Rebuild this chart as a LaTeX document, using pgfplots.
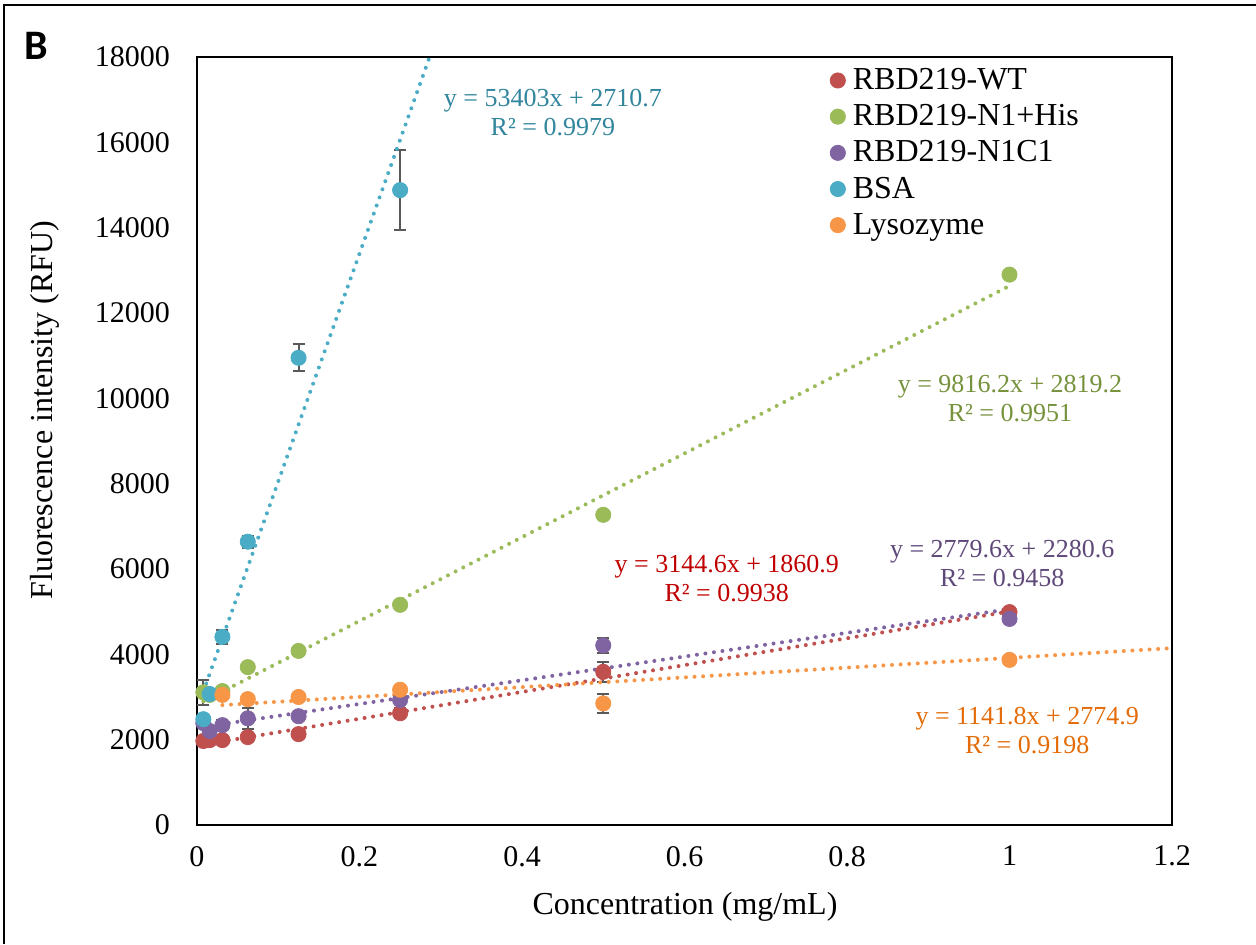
\documentclass[border=0pt]{standalone}
\usepackage{pgfplots}
\pgfplotsset{compat=1.18}
\usepackage{fontspec}
\setmainfont{Liberation Serif}
\newfontfamily\carlito{Carlito}
\definecolor{cRed}{HTML}{C0504D}
\definecolor{cGreen}{HTML}{9BBB59}
\definecolor{cPurple}{HTML}{8064A2}
\definecolor{cAqua}{HTML}{4BACC6}
\definecolor{cOrange}{HTML}{F79646}
\definecolor{tRed}{HTML}{C00000}
\definecolor{tGreen}{HTML}{76923C}
\definecolor{tPurple}{HTML}{5F497A}
\definecolor{tAqua}{HTML}{31859C}
\definecolor{tOrange}{HTML}{E36C09}
\definecolor{ebar}{HTML}{595959}
\begin{document}
\begin{tikzpicture}
\useasboundingbox (-98.5pt,-59.5pt) rectangle (529.5pt,412.5pt);
\draw[line width=0.8pt] (-96.5pt,-59.5pt) -- (-96.5pt,410pt) -- (529.5pt,410pt);
\node[font=\carlito\bfseries\fontsize{21}{24}\selectfont] at (-80.5pt,389.5pt) {B};
\begin{axis}[
  at={(0pt,0pt)}, anchor=south west,
  scale only axis, width=487.5pt, height=384pt,
  xmin=0, xmax=1.2, ymin=0, ymax=18000,
  xtick={0,0.2,...,1.2}, ytick={0,2000,...,18000},
  xticklabels={0,0.2,0.4,0.6,0.8,1,1.2},
  scaled y ticks=false,
  /pgf/number format/.cd, assume math mode=true, 1000 sep={}, /pgfplots/.cd,
  yticklabel={\pgfmathprintnumber[fixed,precision=0,1000 sep={},assume math mode=true]{\tick}},
  major tick length=0pt,
  axis line style={line width=1pt},
  tick label style={font=\fontsize{15}{18}\selectfont},
  xticklabel style={yshift=-7pt},
  yticklabel style={xshift=-10pt},
  xlabel={Concentration (mg/mL)},
  ylabel={Fluorescence intensity (RFU)},
  label style={font=\fontsize{16}{19}\selectfont},
  xlabel style={at={(axis description cs:0.5005,-0.107)}, anchor=center},
  ylabel style={at={(axis description cs:-0.156,0.54)}, anchor=center},
  legend style={draw=none, fill=none, at={(0.647,0.9935)}, anchor=north west,
    font=\fontsize{16}{18.6}\selectfont, row sep=2pt, inner sep=1pt},
  legend cell align=left,
  legend image code/.code={\draw[#1, only marks] plot coordinates {(0pt,0pt)}; \path (5.3pt,0pt) circle (0pt);},
  error bars/y dir=both, error bars/y explicit,
  error bars/error bar style={line width=1pt, color=ebar},
  error bars/error mark options={rotate=90, mark size=3pt, line width=1pt, color=ebar},
  clip=true,
]
% data series
\addplot[only marks, mark=*, mark size=3.8pt, color=cRed, mark options={draw=cRed, fill=cRed}] coordinates {
 (0.0078125,1969) +- (0,40)
 (0.015625,1990) +- (0,40)
 (0.03125,1990) +- (0,50)
 (0.0625,2060) +- (0,60)
 (0.125,2130) +- (0,60)
 (0.25,2620) +- (0,120)
 (0.5,3590) +- (0,235)
 (1,4990) +- (0,80)
};
\addlegendentry{RBD219-WT}
\addplot[only marks, mark=*, mark size=3.8pt, color=cGreen, mark options={draw=cGreen, fill=cGreen}] coordinates {
 (0.0078125,3110) +- (0,300)
 (0.015625,3050) +- (0,60)
 (0.03125,3140) +- (0,60)
 (0.0625,3700) +- (0,60)
 (0.125,4080) +- (0,60)
 (0.25,5160) +- (0,60)
 (0.5,7270) +- (0,100)
 (1,12900) +- (0,80)
};
\addlegendentry{RBD219-N1+His}
\addplot[only marks, mark=*, mark size=3.8pt, color=cPurple, mark options={draw=cPurple, fill=cPurple}] coordinates {
 (0.0078125,2390) +- (0,80)
 (0.015625,2200) +- (0,60)
 (0.03125,2340) +- (0,120)
 (0.0625,2500) +- (0,250)
 (0.125,2550) +- (0,60)
 (0.25,2930) +- (0,80)
 (0.5,4210) +- (0,175)
 (1,4830) +- (0,100)
};
\addlegendentry{RBD219-N1C1}
\addplot[only marks, mark=*, mark size=3.8pt, color=cAqua, mark options={draw=cAqua, fill=cAqua}] coordinates {
 (0.0078125,2480) +- (0,80)
 (0.015625,3070) +- (0,100)
 (0.03125,4410) +- (0,170)
 (0.0625,6640) +- (0,140)
 (0.125,10950) +- (0,320)
 (0.25,14880) +- (0,930)
};
\addlegendentry{BSA}
\addplot[only marks, mark=*, mark size=3.8pt, color=cOrange, mark options={draw=cOrange, fill=cOrange}] coordinates {
 (0.03125,3050) +- (0,60)
 (0.0625,2950) +- (0,60)
 (0.125,3000) +- (0,60)
 (0.25,3170) +- (0,60)
 (0.5,2850) +- (0,220)
 (1,3870) +- (0,60)
};
\addlegendentry{Lysozyme}
% trendlines
\pgfplotsset{trend/.style={no marks, forget plot, line width=2pt, line cap=round, dash pattern=on 0pt off 4.3pt, error bars/y dir=none}}
\addplot[trend, color=cRed] coordinates {(0.0078125,1885.5) (1,5005.5)};
\addplot[trend, color=cGreen] coordinates {(0.0078125,2895.9) (1,12635.4)};
\addplot[trend, color=cPurple] coordinates {(0.0078125,2302.3) (1,5060.2)};
\addplot[trend, color=cAqua] coordinates {(0.0078125,3127.9) (0.2863,18000)};
\addplot[trend, color=cOrange] coordinates {(0.03125,2810.6) (1.2,4145.1)};
% equation labels
\node[align=center, text=tAqua, font=\fontsize{13}{14.5}\selectfont] at (axis cs:0.438,16698) {y = 53403x + 2710.7\\R² = 0.9979};
\node[align=center, text=tGreen, font=\fontsize{13}{14.5}\selectfont] at (axis cs:1.0006,10007) {y = 9816.2x + 2819.2\\R² = 0.9951};
\node[align=center, text=tPurple, font=\fontsize{13}{14.5}\selectfont] at (axis cs:0.991,6129) {y = 2779.6x + 2280.6\\R² = 0.9458};
\node[align=center, text=tRed, font=\fontsize{13}{14.5}\selectfont] at (axis cs:0.652,5777) {y = 3144.6x + 1860.9\\R² = 0.9938};
\node[align=center, text=tOrange, font=\fontsize{13}{14.5}\selectfont] at (axis cs:1.0218,2203) {y = 1141.8x + 2774.9\\R² = 0.9198};
\end{axis}
\end{tikzpicture}
\end{document}
